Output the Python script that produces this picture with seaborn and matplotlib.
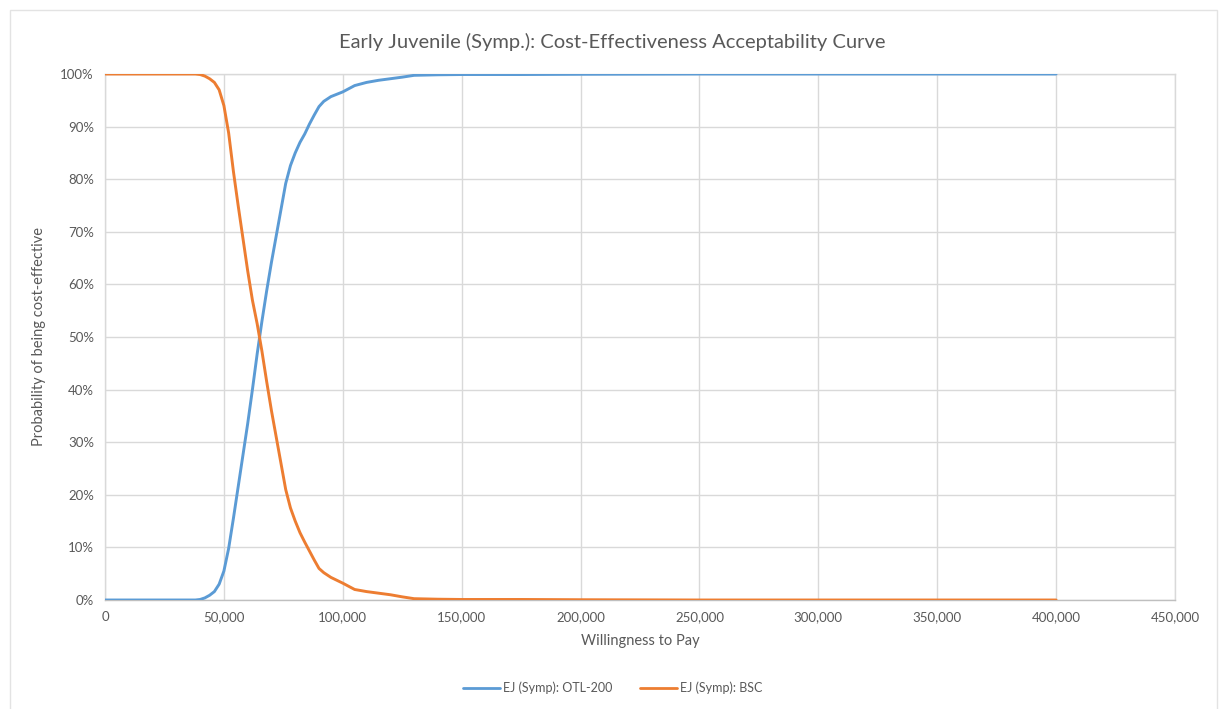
import numpy as np
import pandas as pd
import matplotlib
matplotlib.use("Agg")
import matplotlib.pyplot as plt
import seaborn as sns
from matplotlib.ticker import FuncFormatter, MultipleLocator
from matplotlib.patches import Rectangle

# ---- data ----
wtp = [0, 10000, 20000, 30000, 38000, 40000, 42000, 44000, 46000, 48000,
       50000, 52000, 54000, 56000, 58000, 60000, 62000, 64000, 66000, 68000,
       70000, 72000, 74000, 76000, 78000, 80000, 82000, 84000, 86000, 88000,
       90000, 92000, 95000, 100000, 105000, 110000, 115000, 120000, 125000, 130000,
       140000, 150000, 175000, 200000, 250000, 300000, 350000, 400000]

otl200 = [0, 0, 0, 0, 0, 0.1, 0.4, 0.9, 1.6, 3.0,
          5.5, 9.8, 15.5, 21.5, 27.5, 33.5, 40.0, 46.8, 53.0, 58.8,
          64.2, 69.2, 74.2, 79.2, 82.6, 85.0, 87.0, 88.6, 90.5, 92.2,
          93.8, 94.8, 95.7, 96.6, 97.8, 98.4, 98.8, 99.1, 99.4, 99.75,
          99.85, 99.9, 99.9, 99.95, 100, 100, 100, 100]

bsc = [100, 100, 100, 100, 100, 99.9, 99.6, 99.1, 98.4, 97.0,
       94.0, 88.8, 81.5, 75.0, 68.8, 62.6, 57.0, 52.5, 47.3, 41.5,
       36.0, 31.0, 26.0, 21.0, 17.5, 15.0, 12.8, 11.0, 9.3, 7.6,
       6.0, 5.2, 4.3, 3.2, 2.0, 1.6, 1.3, 1.0, 0.6, 0.25,
       0.15, 0.1, 0.1, 0.05, 0, 0, 0, 0]

series_names = ["EJ (Symp): OTL-200", "EJ (Symp): BSC"]
title = "Early Juvenile (Symp.): Cost-Effectiveness Acceptability Curve"
xlabel = "Willingness to Pay"
ylabel = "Probability of being cost-effective"

df = pd.DataFrame({
    "wtp": wtp * 2,
    "prob": [v / 100 for v in otl200] + [v / 100 for v in bsc],
    "series": [series_names[0]] * len(wtp) + [series_names[1]] * len(wtp),
})

# ---- style ----
sns.set_theme(style="white")
plt.rcParams["font.family"] = ["Lato", "DejaVu Sans"]
text_col = "#595959"
grid_col = "#D9D9D9"

fig = plt.figure(figsize=(12.21, 7.09), dpi=100)
ax = fig.add_axes([105 / 1221, 1 - 600 / 709, (1175 - 105) / 1221, (600 - 74) / 709])

sns.lineplot(data=df, x="wtp", y="prob", hue="series",
             palette=["#5B9BD5", "#ED7D31"], linewidth=2.1, ax=ax,
             legend=False, zorder=3)

ax.set_xlim(0, 450000)
ax.set_ylim(0, 1)
ax.xaxis.set_major_locator(MultipleLocator(50000))
ax.yaxis.set_major_locator(MultipleLocator(0.1))
ax.xaxis.set_major_formatter(FuncFormatter(lambda v, p: f"{int(round(v)):,}"))
ax.yaxis.set_major_formatter(FuncFormatter(lambda v, p: f"{int(round(v * 100))}%"))
ax.grid(True, color=grid_col, linewidth=1.0)
for s in ax.spines.values():
    s.set_color(grid_col)
    s.set_linewidth(1.0)
ax.spines["bottom"].set_color("#BFBFBF")
ax.tick_params(axis="both", colors=text_col, labelsize=9.5, length=0, pad=8)

ax.set_xlabel(xlabel, color=text_col, fontsize=10.5, labelpad=8)
ax.set_ylabel(ylabel, color=text_col, fontsize=10.5, labelpad=10)

fig.text(0.5015, 1 - 42 / 709, title, ha="center", va="center",
         fontsize=14.5, color=text_col)

handles = [plt.Line2D([], [], color=c, linewidth=2.0) for c in ["#5B9BD5", "#ED7D31"]]
fig.legend(handles, series_names, loc="center", ncol=2, frameon=False,
           bbox_to_anchor=(0.5015, 1 - 688 / 709), fontsize=9,
           labelcolor=text_col, handlelength=3.0, handletextpad=0.2,
           columnspacing=2.2)

# outer chart border
fig.patches.append(Rectangle((10 / 1221, -0.01), 1207 / 1221, 1 - 10 / 709 + 0.01,
                             transform=fig.transFigure, fill=False,
                             edgecolor="#E3E3E3", linewidth=1.0))

fig.savefig("out.png", dpi=100, facecolor="white")
